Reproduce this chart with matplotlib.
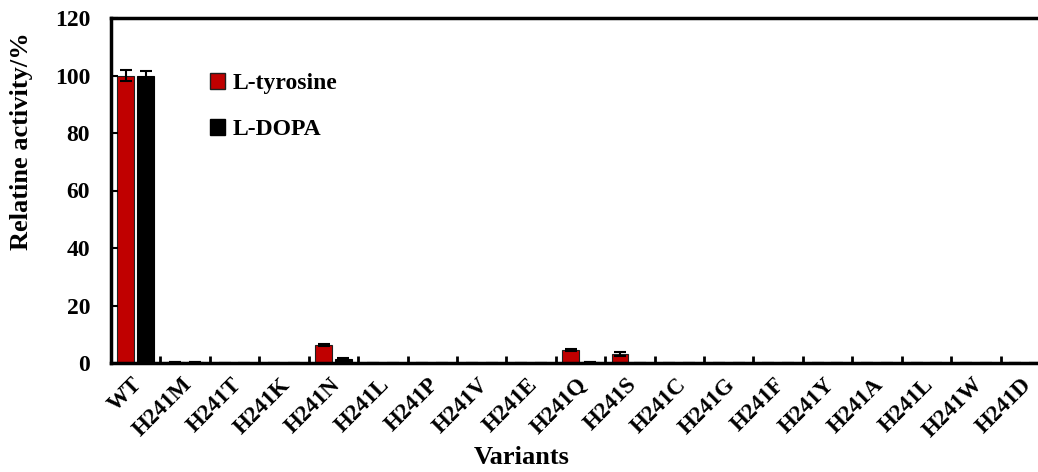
import numpy as np
import matplotlib
matplotlib.use('Agg')
import matplotlib.pyplot as plt
from matplotlib.patches import Patch

variants = ['WT', 'H241M', 'H241T', 'H241K', 'H241N', 'H241L', 'H241P', 'H241V',
            'H241E', 'H241Q', 'H241S', 'H241C', 'H241G', 'H241F', 'H241Y', 'H241A',
            'H241L', 'H241W', 'H241D']
tyrosine = [100, 0.2, 0.1, 0.1, 6.2, 0.1, 0.1, 0.1, 0.1, 4.4, 3.0, 0.1, 0.1, 0.1, 0.1, 0.1, 0.1, 0.1, 0.1]
tyrosine_err = [2.0, 0, 0, 0, 0.3, 0, 0, 0, 0, 0.3, 0.7, 0, 0, 0, 0, 0, 0, 0, 0]
dopa = [100, 0.2, 0.1, 0.1, 1.4, 0.1, 0.1, 0.1, 0.1, 0.4, 0.1, 0.1, 0.1, 0.1, 0.1, 0.1, 0.1, 0.1, 0.1]
dopa_err = [1.5, 0, 0, 0, 0.3, 0, 0, 0, 0, 0.1, 0, 0, 0, 0, 0, 0, 0, 0, 0]

plt.rcParams['font.family'] = ['Liberation Serif', 'DejaVu Serif']
plt.rcParams['font.weight'] = 'bold'

fig = plt.figure(figsize=(10.38, 4.72), dpi=100)
ax = fig.add_axes([111/1038, 1 - 363/472, (1050 - 111)/1038, (363 - 18)/472])

x = np.arange(len(variants))
w = 0.34
ax.bar(x - 0.2, tyrosine, w, color='#c00000', edgecolor='#202020', linewidth=0.8,
       yerr=tyrosine_err, error_kw=dict(ecolor='black', elinewidth=1.5, capsize=4.5, capthick=1.5))
ax.bar(x + 0.2, dopa, w, color='black', edgecolor='black', linewidth=0.8,
       yerr=dopa_err, error_kw=dict(ecolor='black', elinewidth=1.5, capsize=4.5, capthick=1.5))

ax.set_xlim(-0.5, len(variants) - 0.5)
ax.set_ylim(0, 120)
ax.set_yticks(np.arange(0, 121, 20))
# labels sit a touch left of the category centre, as in the original
ax.set_xticks(x - 0.08)
ax.set_xticklabels(variants, rotation=45, ha='right', rotation_mode='anchor',
                   fontsize=16.5, fontweight='bold')
ax.set_xticks(np.arange(0.5, len(variants) - 0.5, 1), minor=True)
ax.tick_params(axis='x', which='major', length=0, pad=8)
ax.tick_params(axis='x', which='minor', direction='in', length=5, width=2)
ax.tick_params(axis='y', direction='in', length=5, width=1.5, labelsize=17, pad=15)
for lab in ax.get_yticklabels():
    lab.set_fontweight('bold')

for s in ax.spines.values():
    s.set_linewidth(2.5)

ax.set_ylabel('Relatine activity/%', fontsize=19, fontweight='bold')
ax.yaxis.set_label_coords(-(111 - 33) / 939, (363 - 141) / 345)
ax.set_xlabel('Variants', fontsize=19, fontweight='bold')
ax.xaxis.set_label_coords((522 - 111) / 939, -(446 - 363) / 345)

handles = [Patch(facecolor='#c00000', edgecolor='#202020', label='L-tyrosine'),
           Patch(facecolor='black', edgecolor='black', label='L-DOPA')]
ax.legend(handles=handles, loc='upper left', bbox_to_anchor=((210 - 111) / 939, (363 - 73) / 345),
          frameon=False, prop={'family': 'Liberation Serif', 'weight': 'bold', 'size': 17},
          handlelength=0.65, handleheight=0.65, handletextpad=0.3, labelspacing=1.05,
          borderaxespad=0, borderpad=0)

fig.savefig('out.png', dpi=100)
